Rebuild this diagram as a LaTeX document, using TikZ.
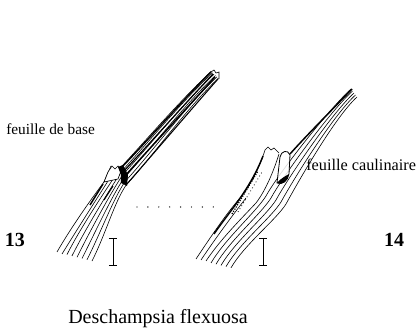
\documentclass[tikz,border=0pt]{standalone}
\usepackage{fontspec}
\setmainfont{Liberation Serif}
\begin{document}
\begin{tikzpicture}[x=0.75pt,y=-0.75pt,
  vein/.style={line width=0.45pt},
  heavy/.style={line width=1.1pt},
  bar/.style={line width=0.6pt},
  lbl/.style={inner sep=0pt,anchor=west},
  num/.style={inner sep=0pt,font=\fontsize{15}{15}\selectfont\bfseries},
  title/.style={inner sep=0pt,font=\fontsize{15}{17}\selectfont}]
\path[use as bounding box] (0,0) rectangle (419,334);

% ---------- 13 : basal leaf ----------
% outer sheath lines ending at the ligule
\draw[vein] (57,252) .. controls (72,226) and (92,198) .. (104,182) -- (111,166);
\draw[vein] (62,254) .. controls (78,228) and (96,200) .. (108,181) -- (114,169);
% veins running from the stem base through the collar into the blade
\foreach \i in {2,...,7}{
  \draw[vein] ({57+5*\i},{252+1.3*\i})
    .. controls +(14,-28) and +(-12,18) .. ({119+1*\i},{160+3.6*\i})
    .. controls +(25,-27) and +(-30,28) .. ({208+1.5*\i},{69+1.3*\i});
}
% darker strands in the blade
\draw[heavy] (122,167) .. controls (150,138) and (180,103) .. (211,72);
\draw[line width=0.9pt] (123,172) .. controls (151,142) and (183,106) .. (213,74);
\draw[heavy] (124,177) .. controls (152,146) and (185,110) .. (215,77);
\draw[line width=0.8pt] (126,185) .. controls (155,152) and (188,113) .. (218,79);
\draw[heavy] (90,205) -- (103,184);
\draw[line width=0.8pt] (104,200) -- (113,186);
% ligule and black collar
\filldraw[fill=white,line width=0.5pt] (104,182) -- (108,172) -- (112,166) -- (115,169)
  -- (118,166) -- (121,171) -- (118,179) -- cycle;
\fill (118,167) -- (123,165) -- (128,175) -- (127,186) -- (121,183) -- (121,175) -- cycle;
% notched tip
\draw[vein] (211,72) -- (214,70) -- (216,73) -- (219,72) -- (219,79);

% ---------- 14 : stem leaf ----------
% sheath border and outer lines
\draw[vein] (196,259) .. controls (210,238) and (226,214) .. (240,198)
  .. controls (252,183) and (260,166) .. (265,150);
\draw[heavy] (214,234) .. controls (226,216) and (250,190) .. (263,156);
\draw[vein] (201,260) .. controls (215,239) and (232,216) .. (246,198);
\draw[vein] (206,261) .. controls (220,240) and (240,220) .. (256,203)
  .. controls (266,190) and (274,170) .. (279,154);
% jagged top of the sheath
\draw[vein] (265,150) -- (268,147) -- (271,150) -- (274,148) -- (279,153);
% stippled interior of the sheath
\draw[densely dotted,line width=0.9pt] (232,214) -- (258,171);
\draw[dotted,line width=0.6pt] (238,212) -- (262,172);
% veins from the stem base into the blade
\foreach \k in {0,...,4}{
  \draw[vein] ({211+5*\k},{263+1.2*\k})
    .. controls +(14,-24) and +(-10,16) .. ({266+5*\k},{196+2*\k})
    .. controls +(12,-22) and +(-22,20) .. ({351+1.5*\k},{89+2*\k});
}
% ligule lobe
\filldraw[fill=white,fill opacity=0.85,line width=0.6pt] (280,157) .. controls (281,151) and (288,149) .. (290,155)
  -- (289,174) .. controls (288,181) and (282,185) .. (277,183) -- cycle;
\fill (277,183) .. controls (281,178) and (286,176) .. (289,174) .. controls (288,181) and (282,186) .. (277,183);
% upper blade margin
\draw[heavy] (290,154) .. controls (306,136) and (330,112) .. (352,89);

% ---------- dotted link and scale bars ----------
\foreach \x in {0,...,7} \fill ({137+\x*10.9},207) circle (0.7);
\draw[bar] (113,238) -- (113,265) (109,238) -- (117,238) (109,265) -- (117,265);
\draw[bar] (263,238) -- (263,265) (259,238) -- (267,238) (259,265) -- (267,265);

% ---------- labels ----------
\node[lbl,font=\fontsize{11.5}{13}\selectfont] (base) at (6,129) {feuille de base};
\node[lbl,font=\fontsize{12.2}{14}\selectfont] (caul) at (306,165) {feuille caulinaire};
\node[num] (n13) at (15,240) {13};
\node[num] (n14) at (394,240) {14};
\node[title] (species) at (158,319) {Deschampsia flexuosa};
\end{tikzpicture}
\end{document}
